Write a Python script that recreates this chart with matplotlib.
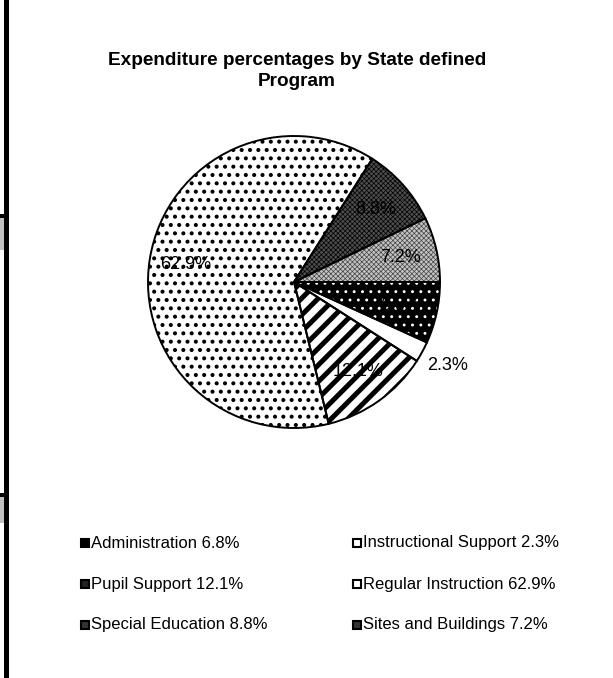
import matplotlib
matplotlib.use("Agg")
import numpy as np
import matplotlib.pyplot as plt
from matplotlib.patches import Rectangle

programs = ["Administration", "Instructional Support", "Pupil Support",
            "Regular Instruction", "Special Education", "Sites and Buildings"]
shares = [6.8, 2.3, 12.1, 62.9, 8.8, 7.2]
title = "Expenditure percentages by State defined\nProgram"

plt.rcParams['font.family'] = ['Liberation Sans', 'DejaVu Sans']

W, H = 613, 678
fig = plt.figure(figsize=(W / 100, H / 100), dpi=100)


def box(x, y, w, h):
    # pixel box (top-left origin) -> figure fraction
    return (x / W, 1 - (y + h) / H, w / W, h / H)


def strip(x, y, w, h, color):
    l, b, ww, hh = box(x, y, w, h)
    fig.patches.append(Rectangle((l, b), ww, hh, transform=fig.transFigure,
                                 facecolor=color, edgecolor='none'))


# left frame strip
strip(4, 0, 5, H, 'black')
for y0, h0 in [(214, 4), (493, 4)]:
    strip(0, y0, 9, h0, 'black')
for y0, h0 in [(218, 32), (497, 26)]:
    strip(0, y0, 4, h0, '#c0c0c0')

fig.text(297 / W, 1 - 71 / H, title, ha='center', va='center', fontsize=13.7,
         fontweight='bold', linespacing=1.35)

ax = fig.add_axes(box(148, 136, 292, 292))
face = ['black', 'white', 'white', 'white', '#4e4e4e', '#c4c4c4']
hcol = ['white', 'white', 'black', 'black', 'black', '#444444']
hatches = ['..', None, '//', '..', 'xxxxxxx', 'xxxxxxx']
hlw = [0.9, 1.0, 3.6, 1.7, 0.5, 0.5]

wedges, _ = ax.pie(shares, startangle=0, counterclock=False, radius=1)
for w, f, hc, ht, lw in zip(wedges, face, hcol, hatches, hlw):
    w.set_facecolor(f)
    w.set_edgecolor(hc)
    w.set_linewidth(0)
    if ht:
        w.set_hatch(ht)
        if hasattr(w, 'set_hatch_linewidth'):
            w.set_hatch_linewidth(lw)

ax.pie(shares, startangle=0, counterclock=False, radius=1,
       wedgeprops=dict(fill=False, edgecolor='black', linewidth=1.4))

for w, v in zip(wedges, shares):
    mid = np.deg2rad((w.theta1 + w.theta2) / 2)
    r = 1.2 if v < 5 else 0.75
    ax.text(r * np.cos(mid), r * np.sin(mid), f"{v}%", ha='center', va='center',
            fontsize=13, color='black')

ax.set_xlim(-1, 1)
ax.set_ylim(-1, 1)
ax.set_aspect('equal')
ax.axis('off')

# legend, two columns, row-major
leg_face = ['black', 'white', '#222222', 'white', '#333333', '#333333']
col_x = [81, 353]
row_y = [543, 584, 625]
for i, (name, v) in enumerate(zip(programs, shares)):
    cx = col_x[i % 2]
    cy = row_y[i // 2]
    l, b, ww, hh = box(cx, cy - 4, 8, 8)
    fig.patches.append(Rectangle((l, b), ww, hh, transform=fig.transFigure,
                                 facecolor=leg_face[i], edgecolor='black', linewidth=1.5))
    fig.text((cx + 10) / W, 1 - cy / H, f"{name} {v}%", ha='left', va='center',
             fontsize=12)

fig.savefig("out.png", dpi=100)
